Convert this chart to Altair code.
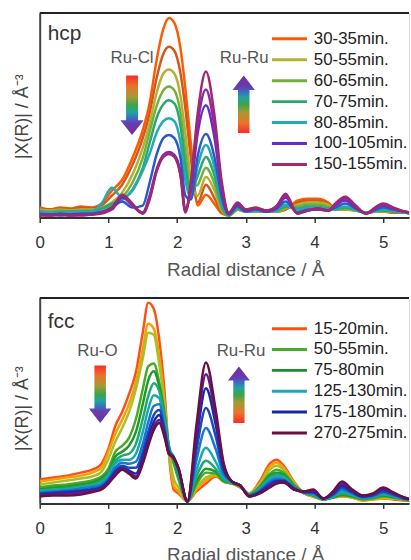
import altair as alt
import pandas as pd

# ---------------- hcp panel (top) ----------------
HCP_R = [0.0, 0.15, 0.3, 0.45, 0.6, 0.75, 0.9, 1.05, 1.2, 1.35, 1.5, 1.6, 1.7, 1.8, 1.88,
         1.96, 2.05, 2.12, 2.2, 2.3, 2.42, 2.54, 2.65, 2.75, 2.88, 3.0, 3.15, 3.3, 3.45,
         3.58, 3.75, 3.9, 4.05, 4.2, 4.3, 4.45, 4.6, 4.75, 4.9, 5.0, 5.15, 5.3, 5.4]
HCP_IDS = ["hcp-01", "hcp-02", "hcp-03", "hcp-04", "hcp-05", "hcp-06", "hcp-07", "hcp-08", "hcp-09", "hcp-10"]
HCP_COLORS = ["#ff5a00", "#d4561a", "#b4b034", "#72b03a", "#2aa870", "#24aab4", "#2a5ac8", "#6a2ac8", "#8a2aa8", "#a0286e"]
hcp_01 = [10, 8, 10, 9, 11, 10, 14, 27, 38, 60, 88, 115, 158, 190, 201, 196, 170, 130, 75, 12, 23, 14, 4, 2, 8, 6, 6, 6, 6, 8, 17, 19, 19, 15, 9, 8, 7, 5, 6, 6, 5, 5, 4]
hcp_02 = [9, 8, 9, 8, 10, 9, 12, 22, 33, 53, 80, 105, 140, 165, 172, 168, 145, 110, 60, 15, 33, 20, 5, 2, 8, 6, 6, 6, 6, 8, 15, 17, 17, 14, 9, 8, 7, 5, 6, 6, 5, 5, 4]
hcp_03 = [8, 7, 8, 7, 8, 8, 10, 15, 25, 43, 70, 95, 125, 145, 149, 145, 122, 85, 40, 22, 41, 28, 7, 2, 8, 6, 6, 6, 6, 9, 13, 15, 15, 13, 8, 8, 7, 5, 6, 6, 6, 5, 4]
hcp_04 = [7, 6, 7, 6, 7, 7, 9, 12, 20, 35, 60, 86, 112, 128, 132, 128, 105, 66, 30, 33, 50, 35, 9, 2, 8, 6, 6, 6, 6, 10, 11, 13, 13, 11, 8, 9, 7, 5, 6, 7, 6, 5, 4]
hcp_05 = [6, 5, 6, 6, 6, 6, 9, 14, 18, 28, 50, 75, 100, 114, 118, 115, 92, 52, 25, 42, 61, 43, 12, 2, 9, 6, 7, 6, 7, 11, 9, 11, 11, 9, 8, 10, 8, 5, 7, 7, 6, 5, 4]
hcp_06 = [6, 5, 5, 5, 6, 6, 14, 30, 20, 27, 47, 64, 85, 97, 100, 97, 75, 38, 20, 52, 73, 52, 15, 3, 10, 6, 7, 6, 8, 13, 7, 10, 10, 8, 9, 11, 8, 5, 7, 8, 7, 5, 5]
hcp_07 = [4, 3, 4, 3, 4, 4, 6, 10, 16, 10, 12, 35, 63, 80, 83, 80, 60, 22, 18, 62, 84, 62, 20, 3, 11, 6, 8, 6, 9, 16, 5, 8, 8, 7, 10, 14, 9, 4, 8, 10, 8, 6, 5]
hcp_08 = [3, 3, 2, 3, 3, 3, 5, 8, 20, 12, 5, 22, 48, 63, 66, 63, 45, 8, 28, 85, 113, 82, 28, 4, 13, 7, 9, 6, 10, 20, 4, 7, 8, 7, 12, 17, 10, 4, 10, 12, 9, 6, 5]
hcp_09 = [3, 2, 3, 2, 3, 3, 5, 10, 22, 12, 4, 20, 47, 62, 65, 62, 43, 6, 32, 95, 129, 93, 32, 4, 14, 8, 9, 7, 11, 22, 4, 7, 9, 7, 13, 19, 11, 4, 10, 13, 9, 6, 5]
hcp_10 = [2, 2, 3, 2, 2, 3, 4, 9, 23, 14, 4, 18, 46, 61, 64, 61, 42, 5, 36, 105, 147, 105, 36, 5, 15, 8, 10, 7, 12, 24, 4, 7, 9, 7, 14, 21, 12, 4, 11, 14, 10, 6, 5]
HCP_LEGEND_LABELS = ["30-35min.", "50-55min.", "60-65min.", "70-75min.", "80-85min.", "100-105min.", "150-155min."]
HCP_LEGEND_COLORS = ["#ff5a00", "#b4b034", "#72b03a", "#2aa870", "#24aab4", "#6a2ac8", "#a0286e"]

# ---------------- fcc panel (bottom) ----------------
FCC_R = [0.0, 0.2, 0.4, 0.6, 0.8, 0.9, 1.0, 1.1, 1.2, 1.3, 1.4, 1.5, 1.58, 1.66, 1.74,
         1.82, 1.88, 1.95, 2.02, 2.15, 2.28, 2.42, 2.56, 2.68, 2.8, 2.92, 3.05, 3.2, 3.35,
         3.45, 3.55, 3.7, 3.85, 3.98, 4.13, 4.27, 4.4, 4.55, 4.7, 4.85, 5.0, 5.15, 5.3, 5.4]
FCC_IDS = ["fcc-01", "fcc-02", "fcc-03", "fcc-04", "fcc-05", "fcc-06", "fcc-07", "fcc-08", "fcc-09", "fcc-10", "fcc-11", "fcc-12"]
FCC_COLORS = ["#ff5014", "#f7a000", "#a8c028", "#4aa828", "#1e9a28", "#1ea872", "#18a8b8", "#1a78c8", "#1a48c0", "#1a28a0", "#6018a0", "#6a1040"]
fcc_01 = [24, 26, 28, 31, 35, 40, 55, 78, 92, 110, 132, 172, 202, 196, 165, 110, 50, 14, 10, 2, 12, 20, 27, 22, 20, 16, 10, 22, 40, 44, 38, 22, 10, 7, 4, 6, 7, 6, 3, 4, 5, 4, 3, 3]
fcc_02 = [22, 24, 26, 28, 32, 36, 52, 70, 84, 100, 122, 155, 181, 176, 148, 100, 52, 18, 12, 2, 14, 23, 28, 22, 20, 16, 10, 20, 37, 41, 36, 21, 10, 7, 4, 6, 7, 6, 3, 4, 5, 5, 3, 3]
fcc_03 = [19, 21, 23, 25, 28, 32, 45, 62, 76, 92, 115, 146, 172, 170, 140, 98, 55, 25, 16, 2, 16, 26, 29, 22, 20, 17, 10, 19, 34, 38, 34, 20, 10, 7, 4, 6, 8, 6, 4, 5, 6, 5, 4, 3]
fcc_04 = [16, 18, 19, 21, 24, 27, 35, 52, 58, 66, 85, 115, 138, 141, 122, 90, 58, 40, 24, 2, 19, 31, 30, 22, 20, 17, 9, 17, 30, 34, 31, 19, 10, 8, 4, 6, 8, 7, 4, 5, 7, 6, 4, 3]
fcc_05 = [14, 16, 17, 19, 22, 25, 32, 47, 52, 58, 72, 100, 124, 133, 118, 88, 58, 44, 28, 2, 22, 35, 32, 23, 21, 17, 9, 16, 28, 31, 29, 18, 11, 8, 4, 6, 9, 7, 5, 6, 8, 6, 4, 3]
fcc_06 = [13, 14, 15, 17, 20, 23, 30, 43, 48, 50, 60, 85, 108, 121, 113, 85, 56, 46, 30, 2, 27, 43, 35, 24, 21, 17, 9, 15, 26, 29, 27, 17, 11, 9, 4, 7, 10, 8, 5, 6, 9, 7, 4, 3]
fcc_07 = [12, 13, 14, 16, 18, 21, 27, 40, 44, 44, 50, 72, 95, 109, 106, 80, 55, 47, 32, 2, 33, 56, 42, 26, 21, 18, 8, 14, 24, 27, 26, 16, 11, 9, 4, 7, 12, 9, 6, 7, 10, 7, 5, 3]
fcc_08 = [11, 12, 13, 15, 17, 19, 25, 36, 41, 40, 42, 60, 82, 98, 100, 76, 54, 47, 33, 2, 43, 76, 55, 29, 22, 18, 8, 13, 22, 25, 24, 16, 11, 10, 5, 8, 14, 10, 6, 7, 11, 8, 5, 3]
fcc_09 = [10, 11, 12, 13, 15, 17, 23, 33, 38, 36, 36, 52, 72, 89, 94, 73, 52, 46, 34, 2, 53, 96, 68, 32, 22, 18, 8, 12, 20, 23, 23, 15, 11, 11, 5, 9, 16, 11, 7, 8, 12, 9, 5, 4]
fcc_10 = [9, 10, 11, 12, 14, 16, 22, 31, 36, 33, 30, 46, 65, 82, 89, 70, 51, 46, 35, 2, 63, 116, 80, 35, 22, 18, 7, 11, 18, 22, 22, 15, 12, 12, 5, 10, 18, 12, 7, 9, 14, 10, 6, 4]
fcc_11 = [8, 9, 10, 11, 13, 15, 21, 29, 35, 31, 27, 42, 60, 77, 84, 68, 50, 46, 35, 2, 70, 130, 88, 38, 22, 18, 7, 10, 17, 21, 21, 14, 12, 13, 5, 11, 20, 13, 8, 9, 15, 10, 6, 4]
fcc_12 = [7, 8, 8, 9, 12, 14, 20, 28, 34, 30, 25, 40, 58, 74, 81, 66, 50, 46, 36, 2, 78, 142, 95, 40, 22, 18, 7, 10, 16, 20, 21, 14, 12, 14, 5, 12, 22, 14, 8, 10, 16, 11, 6, 4]
FCC_LEGEND_LABELS = ["15-20min.", "50-55min.", "75-80min", "125-130min.", "175-180min.", "270-275min."]
FCC_LEGEND_COLORS = ["#ff5014", "#4aa828", "#1e8c28", "#18a8b8", "#1a28a0", "#6a1040"]

X_TICKS = [0, 1, 2, 3, 4, 5]
X_TITLE = "Radial distance / Å"
Y_TITLE = "|X(R)| / Å⁻³"

FONT = "Liberation Sans"
PLOT_W = 372
X_MAX = 5.376

DOWN_PATH = "M-0.2,-1L0.2,-1L0.2,0.5L0.39,0.5L0,1L-0.39,0.5L-0.2,0.5Z"
UP_PATH = "M0,-1L0.39,-0.5L0.2,-0.5L0.2,1L-0.2,1L-0.2,-0.5L-0.39,-0.5Z"
RAINBOW = [(0.0, "#ff2a2a"), (0.18, "#e8742a"), (0.36, "#a39a34"), (0.5, "#3aa44a"),
           (0.62, "#22a3a0"), (0.72, "#3a6cc4"), (0.8, "#6a3cb0"), (1.0, "#6e2f9e")]


def gradient(direction):
    if direction == "down":
        stops = [alt.GradientStop(offset=o, color=c) for o, c in RAINBOW]
    else:
        stops = [alt.GradientStop(offset=round(1 - o, 3), color=c) for o, c in reversed(RAINBOW)]
    return alt.LinearGradient(gradient="linear", stops=stops, x1=0, x2=0, y1=0, y2=1)


def long_frame(grid, ids, series):
    rows = []
    for sid, ys in zip(ids, series):
        assert len(ys) == len(grid), (sid, len(ys), len(grid))
        for r, v in zip(grid, ys):
            rows.append({"R": r, "v": v, "series": sid})
    return pd.DataFrame(rows)


def panel(grid, ids, colors, series, height, name, name_v,
          leg_labels, leg_colors, leg_top, leg_step, arrows, ytitle_y):
    xs = alt.Scale(domain=[0, X_MAX], nice=False, zero=False)
    ys = alt.Scale(domain=[0, height], nice=False, zero=True)
    xax = alt.Axis(values=X_TICKS, format="d", grid=False, title=X_TITLE,
                   domainColor="#333", domainWidth=2, tickColor="#333", tickWidth=1.5,
                   tickSize=5, labelFontSize=17, labelColor="#333", labelPadding=12,
                   labelFont=FONT, labelFlush=False, titleFont=FONT, titleFontSize=19,
                   titleFontWeight="normal", titleColor="#555", titleX=207, titleY=58,
                   titleAlign="center", titleBaseline="alphabetic")
    yax = alt.Axis(labels=False, ticks=False, grid=False, domainColor="#444", domainWidth=2,
                   title=Y_TITLE, titleFont=FONT, titleFontSize=18, titleFontWeight="normal",
                   titleColor="#444", titleX=-17, titleY=ytitle_y, titleAngle=270,
                   titleAlign="center", titleBaseline="middle")

    def X(f):
        return alt.X(f, type="quantitative", scale=xs, axis=xax)

    def Y(f):
        return alt.Y(f, type="quantitative", scale=ys, axis=yax)

    df = long_frame(grid, ids, series)
    lines = alt.Chart(df).mark_line(strokeWidth=2.5, interpolate="monotone", clip=True).encode(
        x=X("R"), y=Y("v"),
        color=alt.Color("series:N", scale=alt.Scale(domain=ids, range=colors), legend=None),
    )

    leg = pd.DataFrame({
        "label": leg_labels,
        "color": leg_colors,
        "x0": [3.38] * len(leg_labels),
        "x1": [3.89] * len(leg_labels),
        "xt": [3.99] * len(leg_labels),
        "y": [leg_top - leg_step * i for i in range(len(leg_labels))],
    })
    leg_lines = alt.Chart(leg).mark_rule(strokeWidth=3).encode(
        x=X("x0"), x2="x1", y=Y("y"), stroke=alt.Stroke("color:N", scale=None)
    )
    leg_text = alt.Chart(leg).mark_text(align="left", baseline="middle", fontSize=17,
                                        font=FONT, color="#222", clip=True).encode(
        x=X("xt"), y=Y("y"), text="label:N"
    )

    layers = [lines, leg_lines, leg_text]
    for a in arrows:
        adf = pd.DataFrame({"R": [a["R"]], "v": [a["v"]], "t": [a["text"]],
                            "tR": [a["tR"]], "tv": [a["tv"]]})
        layers.append(alt.Chart(adf).mark_point(
            shape=DOWN_PATH if a["dir"] == "down" else UP_PATH,
            size=a["size"], filled=True, opacity=1, strokeWidth=0,
            fill=gradient(a["dir"])).encode(x=X("R"), y=Y("v")))
        layers.append(alt.Chart(adf).mark_text(
            align="center", baseline="middle", fontSize=17, font=FONT, color="#555"
        ).encode(x=X("tR"), y=Y("tv"), text="t:N"))

    ndf = pd.DataFrame({"R": [0.116], "v": [name_v], "t": [name]})
    layers.append(alt.Chart(ndf).mark_text(
        align="left", baseline="alphabetic", fontSize=21, font=FONT, color="#333"
    ).encode(x=X("R"), y=Y("v"), text="t:N"))

    border = alt.Chart(ndf).mark_rule(color="#222", strokeWidth=2).encode(
        x=alt.value(0), x2=alt.value(PLOT_W), y=alt.value(0))
    layers.append(border)

    return alt.layer(*layers).properties(width=PLOT_W, height=height)


top = panel(HCP_R, HCP_IDS, HCP_COLORS,
            [hcp_01, hcp_02, hcp_03, hcp_04, hcp_05, hcp_06, hcp_07, hcp_08, hcp_09, hcp_10],
            206, "hcp", 178.5, HCP_LEGEND_LABELS, HCP_LEGEND_COLORS, 180, 21.1,
            [dict(dir="down", R=1.344, v=113, size=3600, text="Ru-Cl", tR=1.344, tv=161),
             dict(dir="up", R=2.97, v=114, size=3364, text="Ru-Ru", tR=2.977, tv=161)],
            104)

bottom = panel(FCC_R, FCC_IDS, FCC_COLORS,
               [fcc_01, fcc_02, fcc_03, fcc_04, fcc_05, fcc_06, fcc_07, fcc_08, fcc_09, fcc_10, fcc_11, fcc_12],
               207, "fcc", 177, FCC_LEGEND_LABELS, FCC_LEGEND_COLORS, 176, 21,
               [dict(dir="down", R=0.88, v=110, size=3364, text="Ru-O", tR=0.84, tv=153),
                dict(dir="up", R=2.9, v=109.5, size=3249, text="Ru-Ru", tR=2.93, tv=153)],
               111)

chart = alt.vconcat(top, bottom, spacing=16).resolve_scale(
    color="independent", stroke="independent", y="independent"
).properties(
    padding={"left": 13, "top": 9, "right": 0, "bottom": 0}
).configure_view(stroke=None).configure(font=FONT, background="white")

chart.save("out.html", embed_options={"renderer": "svg", "actions": False})
